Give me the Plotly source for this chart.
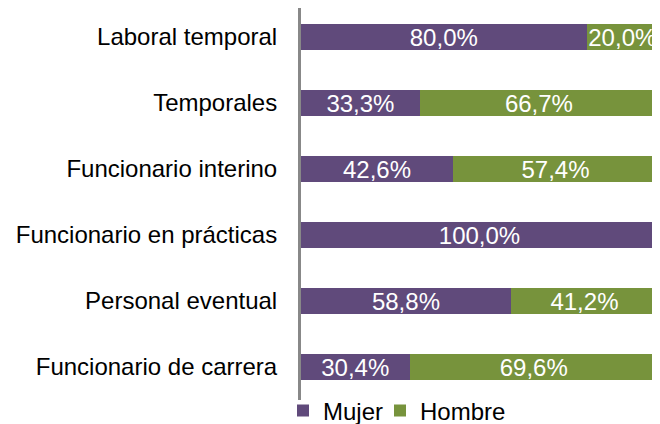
import plotly.graph_objects as go

categories = ["Funcionario de carrera", "Personal eventual", "Funcionario en prácticas",
              "Funcionario interino", "Temporales", "Laboral temporal"]
mujer = [30.4, 58.8, 100.0, 42.6, 33.3, 80.0]
hombre = [69.6, 41.2, 0.0, 57.4, 66.7, 20.0]

def fmt(vals):
    return [(f"{v:.1f}".replace(".", ",") + "%") if v > 0 else "" for v in vals]

# page has an 8px body margin; figure coordinates = page coordinates - 8
OFF = 8
W, H = 660 - OFF, 424 - OFF
fig = go.Figure()
fig.add_trace(go.Bar(y=categories, x=mujer, name="Mujer", orientation="h",
                     marker=dict(color="#604A7B", line=dict(width=0)),
                     text=fmt(mujer), textposition="inside", insidetextanchor="middle",
                     textangle=0, textfont=dict(color="white", size=24),
                     legend="legend"))
fig.add_trace(go.Bar(y=categories, x=hombre, name="Hombre", orientation="h",
                     marker=dict(color="#77933C", line=dict(width=0)),
                     text=fmt(hombre), textposition="inside", insidetextanchor="middle",
                     textangle=0, textfont=dict(color="white", size=24),
                     legend="legend2"))

leg_common = dict(orientation="h", xanchor="left", y=(H - (411 - OFF)) / H, yanchor="middle",
                  font=dict(size=24), bgcolor="rgba(0,0,0,0)")
fig.update_layout(
    barmode="stack", bargap=0.6,
    width=W, height=H,
    margin=dict(l=0, r=0, t=0, b=0, autoexpand=False),
    paper_bgcolor="white", plot_bgcolor="white",
    font=dict(family="Liberation Sans, Arial, sans-serif", size=24, color="black"),
    showlegend=True,
    legend=dict(x=(283 - OFF) / W, **leg_common),
    legend2=dict(x=(380 - OFF) / W, **leg_common),
    uniformtext=dict(mode="show", minsize=24),
)
fig.update_xaxes(range=[0, 100], visible=False, showgrid=False,
                 domain=[(301 - OFF) / W, (658 - OFF) / W])
fig.update_yaxes(showline=True, linecolor="#888888", linewidth=3, ticks="",
                 showgrid=False, tickfont=dict(size=24), automargin=False,
                 ticklabelstandoff=16, range=[-0.5, 5.5 - 4 / 66],
                 domain=[(H - (400 - OFF)) / H, 1])
fig.write_html("out.html")
